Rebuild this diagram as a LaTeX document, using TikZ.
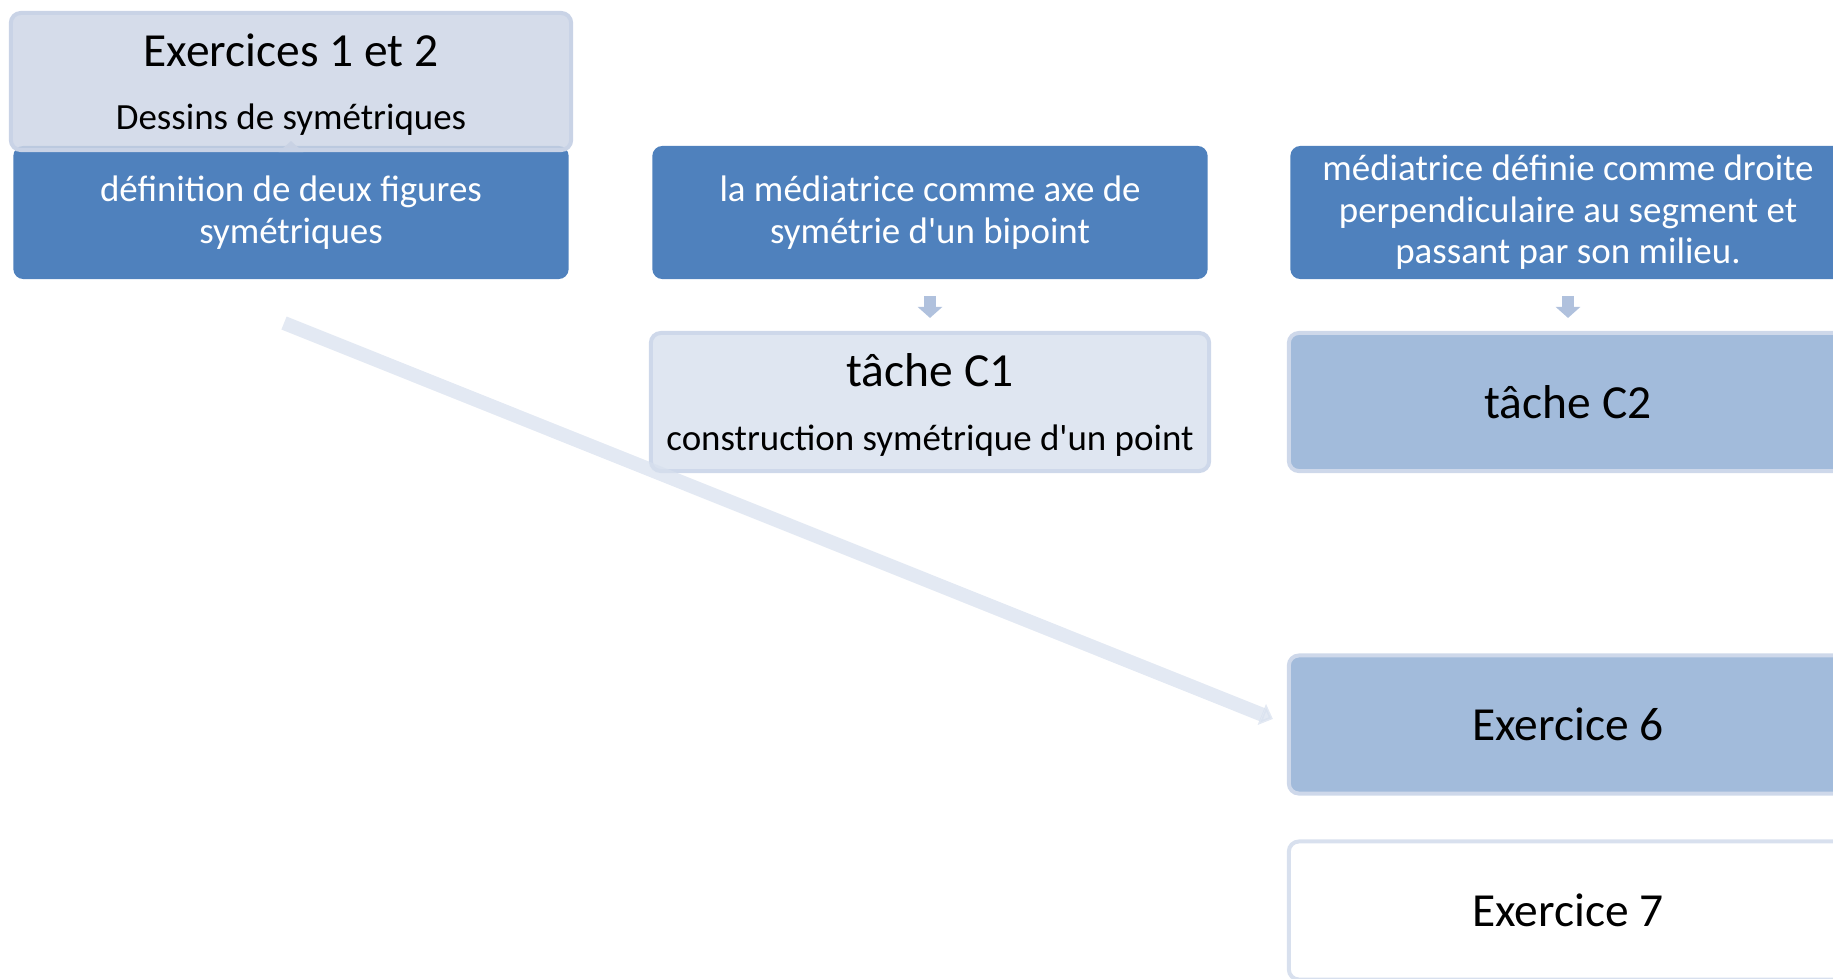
\documentclass[tikz,border=0pt]{standalone}
\usepackage{fontspec}
\setmainfont{Carlito}[Ligatures=TeXOff]
\usetikzlibrary{arrows.meta, positioning, calc}

\definecolor{boxdark}{HTML}{4F81BD}
\definecolor{boxpale}{HTML}{CED6E6}
\definecolor{paleedge}{HTML}{C9D3E6}
\definecolor{boxlight}{HTML}{DFE6F1}
\definecolor{lightedge}{HTML}{CED8EA}
\definecolor{boxmid}{HTML}{A2BBDB}
\definecolor{arrowblue}{HTML}{B0C1DD}
\definecolor{diagblue}{HTML}{D7E0EE}

\tikzset{
    box/.style={rectangle, rounded corners=0.1cm, align=center, inner sep=0pt,
        font=\fontsize{10.5}{11.8}\selectfont},
    darkbox/.style={box, fill=boxdark, text=white, minimum width=5.55cm, minimum height=1.33cm},
    taskbox/.style={box, draw=lightedge, line width=0.04cm, minimum width=5.58cm, minimum height=1.38cm},
    smallarrow/.style={draw=arrowblue, line width=0.12cm, -{Triangle[width=0.24cm, length=0.11cm]}},
    diagarrow/.style={draw=diagblue, opacity=0.7, line width=0.14cm, -{Triangle[width=0.22cm, length=0.12cm]}},
}
\newcommand{\titletext}[1]{{\fontsize{13.5}{16}\selectfont\rule{0pt}{11pt}#1}}

\begin{document}
\begin{tikzpicture}[x=0.01cm, y=-0.01cm]
    \useasboundingbox (0,0) rectangle (1833,978);
    \clip (0,0) rectangle (1833,978);

    % first row: the definitions
    \node[darkbox] (def) at (291,212.5) {définition de deux figures\\symétriques};
    \node[darkbox] (axe) at (930,212.5) {la médiatrice comme axe de\\symétrie d'un bipoint};
    \node[darkbox] (droite) at (1568,212.5) {médiatrice définie comme droite\\perpendiculaire au segment et\\passant par son milieu.};

    % exercises 1 and 2 sit over the first definition
    \coordinate (uptip) at (291,141);
    \draw[smallarrow, line width=0.08cm] (def.north) -- (uptip);
    \node[taskbox, fill=boxpale, fill opacity=0.85, text opacity=1, draw=paleedge,
        minimum width=5.60cm, minimum height=1.37cm] (ex12) at (291,81.5)
        {\titletext{Exercices 1 et 2}\\[6pt]Dessins de symétriques};

    % second row: tasks
    \node[taskbox, fill=boxlight] (c1) at (930,402) {\titletext{tâche C1}\\[6.5pt]construction symétrique d'un point};
    \node[taskbox, fill=boxmid] (c2) at (1568,402) {{\fontsize{13.5}{16}\selectfont tâche C2}};

    \draw[smallarrow, shorten <=0.16cm, shorten >=0.13cm] (axe) -- (c1);
    \draw[smallarrow, shorten <=0.16cm, shorten >=0.13cm] (droite) -- (c2);

    % last column: exercises 6 and 7
    \node[taskbox, fill=boxmid] (ex6) at (1568,724.5) {{\fontsize{13.5}{16}\selectfont Exercice 6}};
    \node[taskbox, fill=white, draw=lightedge!80] (ex7) at (1568,910.5) {{\fontsize{13.5}{16}\selectfont Exercice 7}};

    % long arrow to exercise 6
    \coordinate (dstart) at (284,323);
    \draw[diagarrow, shorten >=0.15cm] (dstart) -- (ex6.west);
\end{tikzpicture}
\end{document}
